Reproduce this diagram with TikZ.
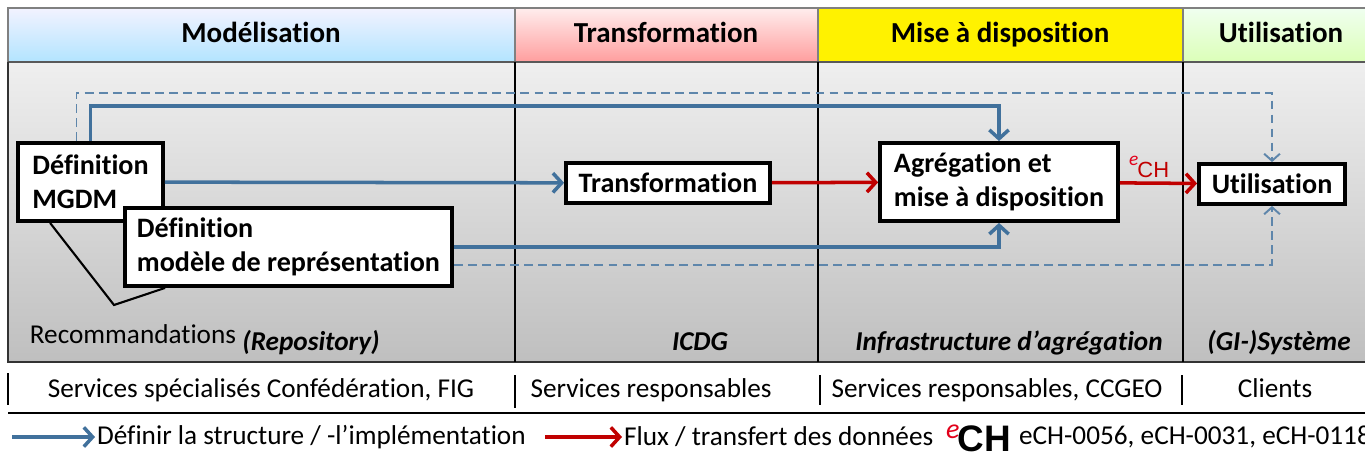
\documentclass[tikz,border=0pt]{standalone}
\usepackage{fontspec}
\setmainfont{Carlito}[Ligatures=NoCommon]
\newfontfamily\logofont{Liberation Sans}
\usepackage{tikz}
\usetikzlibrary{arrows.meta,calc}
\definecolor{flowblue}{HTML}{41719C}
\definecolor{flowred}{HTML}{C00000}
\definecolor{echred}{HTML}{E2001A}
\definecolor{panelhi}{HTML}{EFEFEF}
\definecolor{panello}{HTML}{BFBFBF}
\def\ECHsmall{{\raisebox{0.9ex}{\fontsize{11}{11}\selectfont\textcolor{echred}{\textit{e}}}\kern-0.5pt{\logofont\fontsize{12.5}{12.5}\selectfont CH}}}
\def\ECHbig{{\raisebox{1.0ex}{\fontsize{16}{16}\selectfont\textcolor{echred}{\textit{e}}}\kern-1pt{\logofont\bfseries\fontsize{21}{21}\selectfont CH}}}
\def\HEAD#1#2#3#4{\shade[top color=#3,bottom color=#4] (#1,8) rectangle (#2,62);}

\begin{document}
\begin{tikzpicture}[x=0.02cm,y=-0.02cm,
  every node/.style={font=\fontsize{15.5}{18}\selectfont},
  headtext/.style={anchor=base,font=\fontsize{16.5}{19}\selectfont\bfseries},
  colname/.style={anchor=base,font=\fontsize{15.5}{18}\selectfont\bfseries\itshape},
  stepbox/.style={draw,line width=2.2pt,fill=white,align=left,inner sep=0pt,
    font=\fontsize{16}{19.5}\selectfont\bfseries},
  blueflow/.style={flowblue,line width=2pt,-{Straight Barb[length=5pt,width=11pt]}},
  redflow/.style={flowred,line width=2pt,-{Straight Barb[length=5pt,width=11pt]}},
  plannedflow/.style={flowblue!85!white,line width=1.1pt,dash pattern=on 5pt off 3pt,
    -{Straight Barb[length=4pt,width=9pt]}}]
\useasboundingbox (0,0) rectangle (1365,459);
\fill[white] (0,0) rectangle (1365,459);
% header row
\HEAD{8}{515}{blue!5!white}{blue!35!cyan!30}
\HEAD{515}{818}{red!7}{red!38}
\fill[yellow] (818,8) rectangle (1183,62);
\HEAD{1183}{1400}{green!6!white}{green!50!yellow!28}
\draw[gray,line width=1pt] (8,62) -- (8,8) -- (1400,8);
\foreach \x in {515,818,1183} \draw[gray,line width=0.8pt] (\x,8) -- (\x,62);
\node[headtext] (hmod) at (261,43) {Modélisation};
\node[headtext] (htrans) at (666,43) {Transformation};
\node[headtext] (hmise) at (1000,43) {Mise à disposition};
\node[headtext] (hutil) at (1281,43) {Utilisation};
% panel
\shade[top color=panelhi,bottom color=panello] (8,62) rectangle (1400,362);
\draw[gray!70!black,line width=1.2pt] (8,62) -- (1400,62);
\draw[black!80,line width=1.5pt] (8,62) -- (8,362) -- (1400,362);
\foreach \x in {515,818,1183} \draw[line width=0.8pt] (\x,62) -- (\x,362);
% steps
\node[stepbox,minimum width=2.9cm,minimum height=1.56cm] (mgdm) at (90.5,182)
  {Définition\\MGDM};
\node[stepbox,minimum width=6.54cm,minimum height=1.56cm] (repr) at (288.5,247)
  {Définition\\modèle de représentation};
\node[stepbox,minimum width=4.08cm,minimum height=0.8cm] (transf) at (668,183)
  {Transformation};
\node[stepbox,minimum width=4.76cm,minimum height=1.56cm] (aggr) at (999,182)
  {Agrégation et\\mise à disposition};
\node[stepbox,minimum width=2.92cm,minimum height=0.8cm] (util) at (1272,184)
  {Utilisation};
% flows
\draw[blueflow] (mgdm) -- (transf);
\draw[redflow] (transf) -- (aggr);
\draw[redflow] (aggr) -- node[pos=0.05,anchor=south west,inner sep=2pt] (echa) {\ECHsmall} (util);
\draw[blueflow] (mgdm.north) -- ++(0,-35) -| (aggr.north);
\draw[plannedflow] ($(mgdm.north)+(-14,0)$) -- ++(0,-48) -| (util.north);
\draw[blueflow] (repr.east) -| (aggr.south);
\draw[plannedflow] ($(repr.east)+(0,18)$) -| (util.south);
% recommandations
\coordinate (recv) at (114,305);
\draw[line width=1.2pt] ($(mgdm.south west)+(34,0)$) -- (recv) -- ($(repr.south west)+(42,0)$);
\node[anchor=base] (rec) at (133,343) {Recommandations};
\node[colname] (crepo) at (311,350) {(Repository)};
\node[colname] (cicdg) at (700,350) {ICDG};
\node[colname] (cinfra) at (1009,350) {Infrastructure d’agrégation};
\node[colname] (csys) at (1279,350) {(GI-)Système};
% services
\foreach \x/\a/\b in {8/373/405,515/375/408,820/375/405,1182/375/405}
  \draw[line width=0.8pt] (\x,\a) -- (\x,\b);
\node[anchor=base] (smod) at (261,397) {Services spécialisés Confédération, FIG};
\node[anchor=base] (strans) at (651,397) {Services responsables};
\node[anchor=base] (smise) at (997,397) {Services responsables, CCGEO};
\node[anchor=base] (sutil) at (1275,397) {Clients};
\draw[line width=1pt] (8,413) -- (1400,413);
% legend
\coordinate (legb) at (12,437);
\node[anchor=west,inner sep=1pt] (legtb) at (95,437) {Définir la structure / -l’implémentation};
\draw[blueflow] (legb) -- (legtb.west);
\coordinate (legr) at (545,437);
\node[anchor=west,inner sep=1pt] (legtr) at (622,437) {Flux / transfert des données};
\draw[redflow] (legr) -- (legtr.west);
\node[anchor=west,inner sep=1pt] (leglogo) at (944,438) {\ECHbig};
\node[anchor=west,inner sep=1pt] (legnorm) at (1017,437) {eCH-0056, eCH-0031, eCH-0118};
\end{tikzpicture}
\end{document}
